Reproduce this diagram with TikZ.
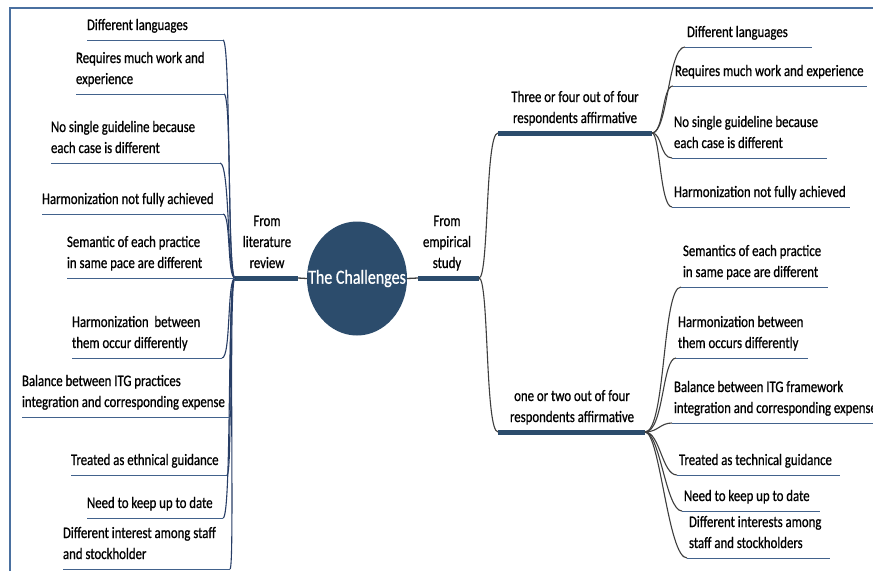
\documentclass[tikz,border=0pt]{standalone}
\usepackage{fontspec}
\setmainfont{Carlito}[FakeStretch=0.8, FakeBold=0.8]
\usetikzlibrary{shapes.geometric}
\definecolor{frameblue}{RGB}{74,112,160}
\definecolor{barblue}{RGB}{44,76,108}
\definecolor{navyline}{RGB}{40,62,102}
\definecolor{grayline}{RGB}{62,62,62}
\definecolor{ulblue}{RGB}{66,98,140}
% invisible rule that pushes the last text line 10pt above the node bottom
\newcommand\deepstrut{\rule[-10pt]{0pt}{10pt}}

\begin{document}
\begin{tikzpicture}[x=1pt,y=-1pt,
  txt/.style={inner sep=0pt, outer sep=0pt, align=left, text=black,
    font=\fontsize{16}{21}\selectfont, execute at end node=\deepstrut},
  lleaf/.style={txt, anchor=south west},
  rleaf/.style={txt, anchor=south west, inner xsep=2pt},
  hdr/.style={txt, anchor=south, align=center},
  bar/.style={barblue, line width=5pt},
  link/.style={grayline, line width=1.3pt},
  lcurve/.style={navyline, line width=1.1pt},
  rcurve/.style={grayline, line width=1.1pt},
  uline/.style={ulblue, line width=0.9pt},
]
\clip (0,0) rectangle (873,571);
\fill[white] (0,0) rectangle (873,571);

% frame
\draw[frameblue, line width=1.5pt] (10,571) -- (10,8) -- (873,8);

% central topic
\node[ellipse, fill=barblue, minimum width=100pt, minimum height=114pt,
  inner sep=0pt] (core) at (357,278.5) {};
\node[inner sep=0pt, text=white, font=\fontsize{20}{24}\selectfont]
  (coretxt) at (core.center) {The Challenges};

% main branches
\coordinate (hubL) at (235,278);
\coordinate (barLin) at (298,278);
\coordinate (barRin) at (418,278);
\coordinate (hubR) at (479,278);
\draw[link] (barLin) -- (core.west);
\draw[link] (core.east) -- (barRin);
\draw[bar] (hubL) -- (barLin);
\draw[bar] (barRin) -- (hubR);
\node[hdr] (litlbl) at (267,278) {From\\literature\\review};
\node[hdr] (emplbl) at (447,278) {From\\empirical\\study};

% right sub-branches
\coordinate (upS) at (498,133);
\coordinate (upE) at (652,133);
\coordinate (loS) at (498,432);
\coordinate (loE) at (645,432);
\draw[rcurve] (hubR) .. controls (489,278) and (485,133) .. (upS);
\draw[rcurve] (hubR) .. controls (489,278) and (485,432) .. (loS);
\draw[bar] (upS) -- (upE);
\draw[bar] (loS) -- (loE);
\node[hdr] (uplbl) at (575,133) {Three or four out of four\\respondents affirmative};
\node[hdr] (lolbl) at (572,432) {one or two out of four\\respondents affirmative};

% left leaves
\node[lleaf] (l1) at (87,40) {Different languages};
\node[lleaf] (l2) at (76,94) {Requires much work and\\experience};
\node[lleaf] (l3) at (51,163) {No single guideline because\\each case is different};
\node[lleaf] (l4) at (42,214) {Harmonization not fully achieved};
\node[lleaf] (l5) at (67,278) {Semantic of each practice\\in same pace are different};
\node[lleaf] (l6) at (72,358) {Harmonization\ \ between\\them occur differently};
\node[lleaf] (l7) at (22,417) {Balance between ITG practices\\integration and corresponding expense};
\node[lleaf] (l8) at (71,475) {Treated as ethnical guidance};
\node[lleaf] (l9) at (87,518) {Need to keep up to date};
\node[lleaf] (l10) at (63,569) {Different interest among staff\\and stockholder};

\coordinate (l1e) at (223,40);
\coordinate (l2e) at (224,94);
\coordinate (l3e) at (220,163);
\coordinate (l4e) at (223,214);
\coordinate (l6e) at (222,358);
\coordinate (l7e) at (230,417);
\coordinate (l8e) at (227,475);
\coordinate (l9e) at (223,518);
\coordinate (l10e) at (230,569);

\draw[lcurve] (hubL) .. controls (227,278) and (231,40) .. (l1e);
\draw[lcurve] (hubL) .. controls (227,278) and (232,94) .. (l2e);
\draw[lcurve] (hubL) .. controls (227,278) and (230,163) .. (l3e);
\draw[lcurve] (hubL) .. controls (227,278) and (231,214) .. (l4e);
\draw[lcurve] (hubL) .. controls (227,278) and (231,358) .. (l6e);
\draw[lcurve] (hubL) .. controls (228,278) and (233,417) .. (l7e);
\draw[lcurve] (hubL) .. controls (227,278) and (233,475) .. (l8e);
\draw[lcurve] (hubL) .. controls (227,278) and (232,518) .. (l9e);
\draw[lcurve] (hubL) .. controls (228,278) and (235,569) .. (l10e);

\draw[uline] (l1e) -- (l1.south west);
\draw[uline] (l2e) -- (l2.south west);
\draw[uline] (l3e) -- (l3.south west);
\draw[uline] (l4e) -- (l4.south west);
\draw[uline] (hubL) -- (l5.south west);
\draw[uline] (l6e) -- (l6.south west);
\draw[uline] (l7e) -- (l7.south west);
\draw[uline] (l8e) -- (l8.south west);
\draw[uline] (l9e) -- (l9.south west);
\draw[uline] (l10e) -- (l10.south west);

% right leaves, upper group
\node[rleaf] (r1) at (685,47) {Different languages};
\node[rleaf] (r2) at (673,86) {Requires much work and experience};
\node[rleaf] (r3) at (672,158) {No single guideline because\\each case is different};
\node[rleaf] (r4) at (672,207) {Harmonization not fully achieved};
\coordinate (r1e) at (812,47);
\coordinate (r2e) at (867,86);
\coordinate (r3e) at (827,158);
\coordinate (r4e) at (850,207);

\draw[rcurve] (upE) .. controls (668,133) and (668,47) .. (r1.south west);
\draw[rcurve] (upE) .. controls (664,133) and (662,86) .. (r2.south west);
\draw[rcurve] (upE) .. controls (662,133) and (660,158) .. (r3.south west);
\draw[rcurve] (upE) .. controls (660,133) and (660,207) .. (r4.south west);
\draw[uline] (r1.south west) -- (r1e);
\draw[uline] (r2.south west) -- (r2e);
\draw[uline] (r3.south west) -- (r3e);
\draw[uline] (r4.south west) -- (r4e);

% right leaves, lower group
\node[rleaf] (r5) at (681,287) {Semantics of each practice\\in same pace are different};
\node[rleaf] (r6) at (676,358) {Harmonization between\\them occurs differently};
\node[rleaf] (r7) at (672,423) {Balance between ITG framework\\integration and corresponding expense};
\node[rleaf] (r8) at (677,475) {Treated as technical guidance};
\node[rleaf] (r9) at (682,511) {Need to keep up to date};
\node[rleaf] (r10) at (687,558) {Different interests among\\staff and stockholders};
\coordinate (r5e) at (828,287);
\coordinate (r6e) at (808,358);
\coordinate (r7e) at (880,423);
\coordinate (r8e) at (840,475);
\coordinate (r9e) at (820,511);
\coordinate (r10e) at (830,558);

\draw[rcurve] (loE) .. controls (666,432) and (662,287) .. (r5.south west);
\draw[rcurve] (loE) .. controls (664,432) and (662,358) .. (r6.south west);
\draw[rcurve] (loE) .. controls (658,432) and (660,423) .. (r7.south west);
\draw[rcurve] (loE) .. controls (660,432) and (662,475) .. (r8.south west);
\draw[rcurve] (loE) .. controls (660,432) and (666,511) .. (r9.south west);
\draw[rcurve] (loE) .. controls (660,432) and (668,558) .. (r10.south west);
\draw[uline] (r5.south west) -- (r5e);
\draw[uline] (r6.south west) -- (r6e);
\draw[uline] (r7.south west) -- (r7e);
\draw[uline] (r8.south west) -- (r8e);
\draw[uline] (r9.south west) -- (r9e);
\draw[uline] (r10.south west) -- (r10e);
\end{tikzpicture}
\end{document}
